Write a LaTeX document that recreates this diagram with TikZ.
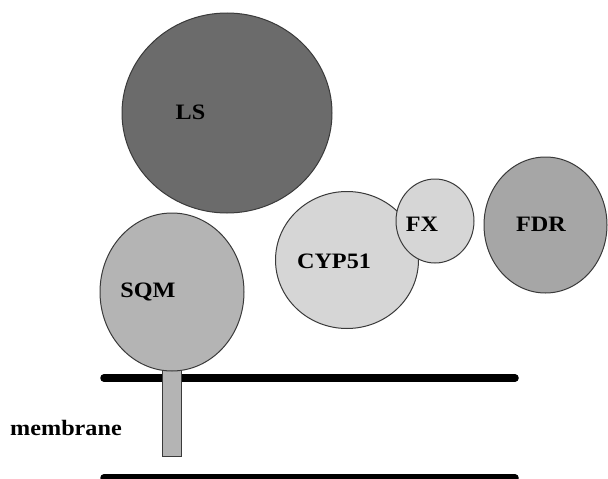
\documentclass[tikz,border=0pt]{standalone}
\usepackage{fontspec}
\setmainfont{Liberation Serif}
\newfontfamily\lblfont[FakeStretch=1.1]{Liberation Serif}
\usetikzlibrary{shapes.geometric}
\definecolor{lsgray}{HTML}{6B6B6B}
\definecolor{sqmgray}{HTML}{B4B4B4}
\definecolor{lightgray2}{HTML}{D6D6D6}
\definecolor{fdrgray}{HTML}{A6A6A6}
\definecolor{edgegray}{HTML}{3A3A3A}
\begin{document}
\begin{tikzpicture}[x=1pt,y=-1pt,
  protein/.style={ellipse, draw=edgegray, line width=1pt, inner sep=0pt},
  lbl/.style={font=\lblfont\bfseries\fontsize{22}{26}\selectfont, anchor=base, inner sep=0pt},
  memline/.style={line width=7.5pt, line cap=round, black}]
\useasboundingbox (0,0) rectangle (608,479);
% membrane lines
\coordinate (t1) at (104,378);
\coordinate (t2) at (515,378);
\coordinate (b1) at (104,478);
\coordinate (b2) at (515,478);
\draw[memline] (t1) -- (t2);
\draw[memline] (b1) -- (b2);
% stalk
\node[draw=edgegray, line width=1pt, fill=sqmgray, minimum width=19pt, minimum height=87pt, inner sep=0pt, anchor=north] (stalk) at (172,369) {};
% proteins
\node[protein, fill=lsgray, minimum width=210pt, minimum height=200pt] (ls) at (227,113) {};
\node[protein, fill=sqmgray, minimum width=144pt, minimum height=158pt] (sqm) at (172,292) {};
\node[protein, fill=lightgray2, minimum width=143pt, minimum height=137pt] (cyp) at (347,260) {};
\node[protein, fill=lightgray2, minimum width=78pt, minimum height=84pt] (fx) at (435,221) {};
\node[protein, fill=fdrgray, minimum width=123pt, minimum height=136pt] (fdr) at (545.5,225) {};
% labels
\node[lbl] (lslbl) at (190.5,119) {LS};
\node[lbl] (sqmlbl) at (148,297) {SQM};
\node[lbl] (cyplbl) at (334,268) {CYP51};
\node[lbl] (fxlbl) at (422,231) {FX};
\node[lbl] (fdrlbl) at (541,231) {FDR};
\node[lbl] (memlbl) at (66,435) {membrane};
\end{tikzpicture}
\end{document}
